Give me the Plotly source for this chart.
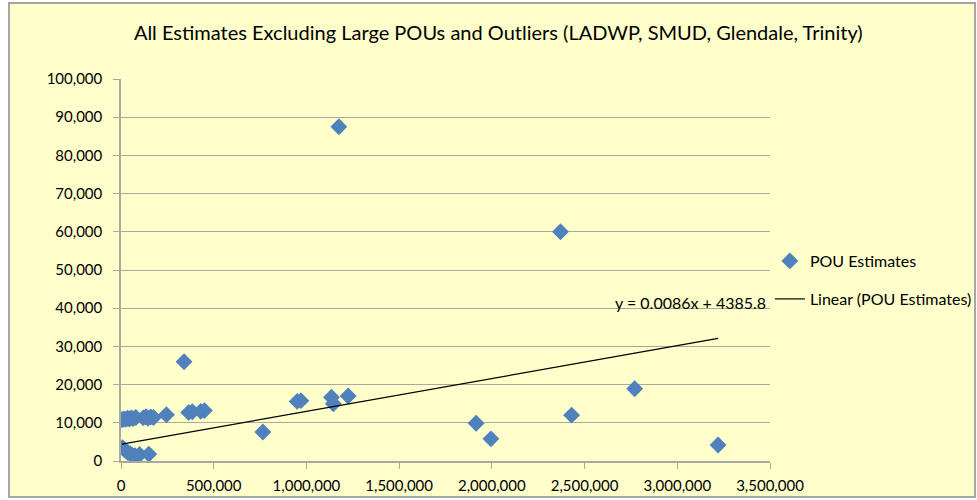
"""Scatter of POU estimates with a linear trendline, Excel-style."""

import plotly.graph_objects as go

# POU estimates (x = customers/sales, y = estimate)
pou_x = [
    5000, 15000, 25000, 35000, 45000, 55000, 65000, 80000, 120000, 135000, 145000, 160000, 175000,
    245000, 365000, 385000, 430000, 450000, 340000,
    765000, 950000, 970000, 1135000, 1145000, 1225000, 1175000,
    1915000, 1995000, 2370000, 2430000, 2770000, 3220000,
    8000, 20000, 35000, 50000, 60000, 75000, 100000, 150000,
]
pou_y = [
    10800, 11000, 10900, 11200, 11000, 11300, 11100, 11400, 11300, 11600, 11200, 11500, 11400,
    12100, 12700, 12900, 13000, 13200, 26000,
    7600, 15600, 15800, 16700, 15000, 17000, 87500,
    9900, 5800, 60000, 12000, 18900, 4200,
    3500, 2900, 2300, 1900, 1500, 1400, 1700, 1800,
]

# Excel linear trendline: y = 0.0086x + 4385.8
slope = 0.0086
intercept = 4385.8
trend_x = [min(pou_x), max(pou_x)]
trend_y = [slope * v + intercept for v in trend_x]

x_ticks = [0, 500000, 1000000, 1500000, 2000000, 2500000, 3000000, 3500000]
y_ticks = [0, 10000, 20000, 30000, 40000, 50000, 60000, 70000, 80000, 90000, 100000]

BG = "#FFFFCC"
GRID = "#A9A9A2"
FONT = "Lato"

fig = go.Figure()
fig.add_trace(go.Scatter(
    x=pou_x, y=pou_y, mode="markers", name="POU Estimates",
    marker=dict(symbol="diamond", size=13, color="#4F81BD"),
    legend="legend", showlegend=True,
))
fig.add_trace(go.Scatter(
    x=trend_x, y=trend_y, mode="lines", name="Linear (POU Estimates)",
    line=dict(color="black", width=1.2),
    legend="legend2", showlegend=True,
))

fig.add_annotation(
    x=3490000, y=41600, xref="x", yref="y",
    text="y = 0.0086x + 4385.8", showarrow=False,
    xanchor="right", yanchor="middle",
    font=dict(family=FONT, size=16, color="black"),
)

# outer chart border
fig.add_shape(
    type="rect", xref="paper", yref="paper",
    x0=-0.1726, x1=1.3159, y0=-0.0942, y1=1.199,
    line=dict(color="#A6A6A6", width=2), fillcolor=BG, layer="below",
)

fig.update_layout(
    width=977, height=500,
    margin=dict(l=121, r=207, t=79, b=39, autoexpand=False),
    paper_bgcolor="white", plot_bgcolor=BG,
    showlegend=True,
    font=dict(family=FONT, size=15, color="black"),
    title=dict(
        text="All Estimates Excluding Large POUs and Outliers (LADWP, SMUD, Glendale, Trinity)",
        x=0.51, xref="container", xanchor="center",
        y=0.934, yref="container", yanchor="middle",
        font=dict(family=FONT, size=20, color="black"),
    ),
    xaxis=dict(
        range=[0, 3500000], tickvals=x_ticks, tickformat=",d",
        showgrid=False, zeroline=False,
        showline=True, linecolor=GRID, linewidth=1.5,
        ticks="outside", tickcolor=GRID, ticklen=6, ticklabelstandoff=4,
    ),
    yaxis=dict(
        range=[0, 100000], tickvals=y_ticks, tickformat=",d",
        showgrid=True, gridcolor=GRID, gridwidth=1.2, zeroline=False,
        showline=True, linecolor=GRID, linewidth=1.5,
        ticks="outside", tickcolor=GRID, ticklen=6, ticklabelstandoff=8,
    ),
    legend=dict(x=0.788, xref="container", xanchor="left",
                y=0.478, yref="container", yanchor="middle",
                bgcolor="rgba(0,0,0,0)", font=dict(size=16)),
    legend2=dict(x=0.788, xref="container", xanchor="left",
                 y=0.402, yref="container", yanchor="middle",
                 bgcolor="rgba(0,0,0,0)", font=dict(size=16)),
)

# drop the default body margin so the chart sits at the window origin
fig.write_html(
    "out.html",
    config={"displayModeBar": False},
    post_script="document.body.style.margin='0';",
)
